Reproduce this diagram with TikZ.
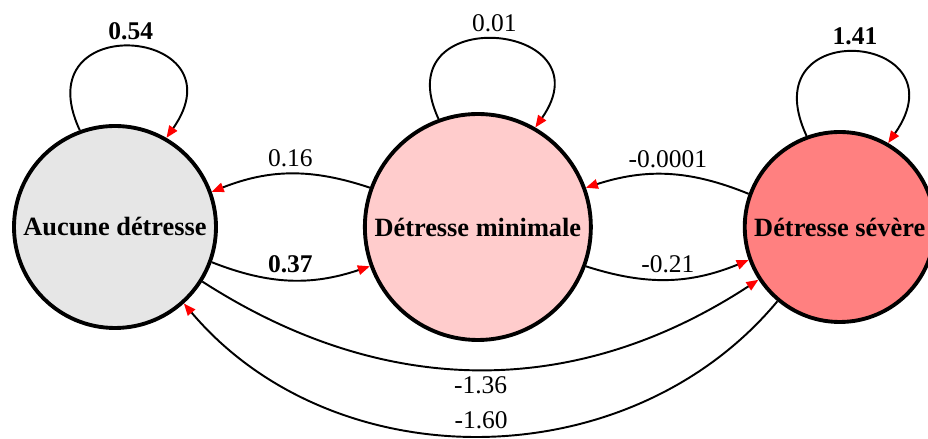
\documentclass[tikz,border=0pt]{standalone}
\usepackage{fontspec}
\setmainfont{Liberation Serif}
\usepackage{tikz}
\usetikzlibrary{arrows.meta, positioning}
\definecolor{grisclair}{HTML}{E6E6E6}
\definecolor{rosepale}{HTML}{FFCCCC}
\definecolor{rosefort}{HTML}{FF8080}

\begin{document}
\begin{tikzpicture}[
  etat/.style={circle, draw, line width=2.2pt, inner sep=0pt, align=center, font=\fontsize{15}{18}\selectfont\bfseries},
  arr/.style={-{Triangle[length=0.24cm, width=0.19cm, color=red]}, line width=1.1pt},
  lbl/.style={font=\fontsize{14.5}{17}\selectfont},
  lblb/.style={font=\fontsize{14.5}{17}\selectfont\bfseries}
]
\useasboundingbox (0,0) rectangle (18.56,8.78);

\node[etat, fill=grisclair, minimum size=4.04cm] (aucune) at (2.30,4.24) {Aucune détresse};
\node[etat, fill=rosepale, minimum size=4.52cm, right=2.9cm of aucune] (minimale) {Détresse minimale};
\node[etat, fill=rosefort, minimum size=3.80cm, right=3.0cm of minimale] (severe) {Détresse sévère};

% boucles
\draw[arr] (aucune.110) to[out=115, in=55, distance=2.7cm] node[above, lblb] {0.54} (aucune.60);
\draw[arr] (minimale.110) to[out=115, in=55, distance=2.6cm] node[above, lbl] {0.01} (minimale.60);
\draw[arr] (severe.110) to[out=115, in=55, distance=2.7cm] node[above, lblb] {1.41} (severe.60);

% transitions voisines
\draw[arr] (minimale.160) to[bend right=20] node[above, lbl] {0.16} (aucune.20);
\draw[arr] (aucune.-20) to[bend right=20] node[above, lblb] {0.37} (minimale.200);
\draw[arr] (severe.160) to[bend right=20] node[above, lbl] {-0.0001} (minimale.20);
\draw[arr] (minimale.-20) to[bend right=20] node[above, lbl] {-0.21} (severe.200);

% transitions longues
\draw[arr] (aucune.-32) to[bend right=33] node[below, lbl] {-1.36} (severe.213);
\draw[arr] (severe.230) to[bend left=50] node[above, lbl] {-1.60} (aucune.-48);
\end{tikzpicture}
\end{document}
